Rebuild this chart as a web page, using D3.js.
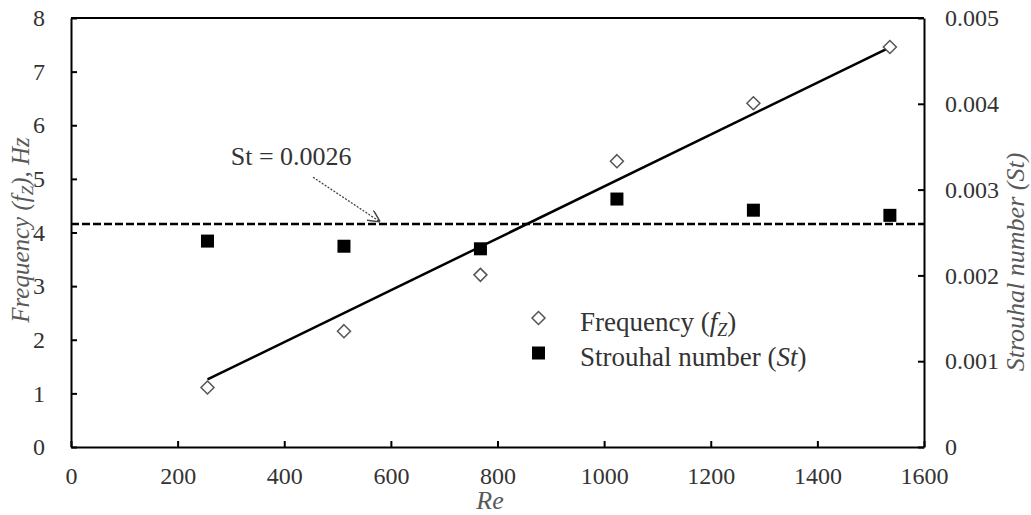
<!DOCTYPE html>
<html><head><meta charset="utf-8">
<script src="https://cdn.jsdelivr.net/npm/d3@7"></script>
<style>
body{margin:0;background:#fff;}
text{font-family:"Liberation Serif","Times New Roman",serif;}
</style></head>
<body><svg id="c" width="1031" height="515"></svg>
<script>
const reynolds = [256, 512, 768, 1024, 1280, 1536];
const frequency = [1.11, 2.16, 3.21, 5.33, 6.41, 7.46];
const strouhal = [0.00240, 0.00234, 0.00231, 0.00289, 0.00276, 0.00270];
const trendRe = [256, 1536];
const trendF = [1.26, 7.45];
const stMean = 0.0026;
const xTicks = [0, 200, 400, 600, 800, 1000, 1200, 1400, 1600];
const yTicks = [0, 1, 2, 3, 4, 5, 6, 7, 8];
const y2Ticks = [0, 0.001, 0.002, 0.003, 0.004, 0.005];
const arrowFrom = [454, 5.03];
const arrowTo = [580, 0.0026];
const annotText = "St = 0.0026";
const annotPos = [413, 5.41];

const svg = d3.select("#c");
const L = 71, R = 924, T = 18, B = 447;
const x = d3.scaleLinear().domain([0, 1600]).range([L, R]);
const y = d3.scaleLinear().domain([0, 8]).range([B, T]);
const y2 = d3.scaleLinear().domain([0, 0.005]).range([B, T]);

const txt = "#333";
svg.append("line").attr("x1", L).attr("x2", R).attr("y1", T).attr("y2", T)
  .attr("stroke", "#000").attr("stroke-width", 2);

function styleAxis(g) {
  g.select(".domain").attr("stroke", "#000").attr("stroke-width", 2);
  g.selectAll(".tick line").attr("stroke", "#000").attr("stroke-width", 2);
  g.selectAll(".tick text").attr("fill", txt).style("font-size", "24px")
    .style("font-family", "'Liberation Serif', serif");
}
const gx = svg.append("g").attr("transform", `translate(0,${B})`)
  .call(d3.axisBottom(x).tickValues(xTicks).tickSizeInner(-6).tickSizeOuter(0).tickPadding(20).tickFormat(d3.format("d")));
styleAxis(gx);
const gy = svg.append("g").attr("transform", `translate(${L},0)`)
  .call(d3.axisLeft(y).tickValues(yTicks).tickSizeInner(-6).tickSizeOuter(0).tickPadding(26).tickFormat(d3.format("d")));
styleAxis(gy);
const gy2 = svg.append("g").attr("transform", `translate(${R},0)`)
  .call(d3.axisRight(y2).tickValues(y2Ticks).tickSizeInner(-6).tickSizeOuter(0).tickPadding(21)
    .tickFormat(d => d === 0 ? "0" : d3.format(".3f")(d)));
styleAxis(gy2);

// dashed St line
svg.append("line").attr("x1", L).attr("x2", R).attr("y1", y2(stMean)).attr("y2", y2(stMean))
  .attr("stroke", "#000").attr("stroke-width", 2.5).attr("stroke-dasharray", "8,3");

// trend line
svg.append("path").datum(trendRe.map((r, i) => [r, trendF[i]]))
  .attr("d", d3.line().x(d => x(d[0])).y(d => y(d[1])))
  .attr("stroke", "#000").attr("stroke-width", 2.5).attr("fill", "none");

// markers
const sq = 13;
svg.selectAll("rect.st").data(reynolds).enter().append("rect")
  .attr("x", (d) => x(d) - sq / 2).attr("y", (d, i) => y2(strouhal[i]) - sq / 2)
  .attr("width", sq).attr("height", sq).attr("fill", "#000");
svg.selectAll("path.fz").data(reynolds).enter().append("path")
  .attr("d", (d, i) => {
    const cx = x(d), cy = y(frequency[i]), r = 6.5;
    return `M${cx},${cy - r}L${cx + r},${cy}L${cx},${cy + r}L${cx - r},${cy}Z`;
  })
  .attr("fill", "#fff").attr("stroke", "#555").attr("stroke-width", 1.5);

// annotation arrow
const defs = svg.append("defs");
defs.append("marker").attr("id", "arr").attr("viewBox", "0 0 10 10").attr("refX", 10).attr("refY", 5)
  .attr("markerWidth", 12).attr("markerHeight", 12).attr("markerUnits", "userSpaceOnUse").attr("orient", "auto")
  .append("path").attr("d", "M0,0L10,5L0,10").attr("fill", "none").attr("stroke", "#444").attr("stroke-width", 1.2);
svg.append("line").attr("x1", x(arrowFrom[0])).attr("y1", y(arrowFrom[1]))
  .attr("x2", x(arrowTo[0])).attr("y2", y2(arrowTo[1]) - 2)
  .attr("stroke", "#444").attr("stroke-width", 1.3).attr("stroke-dasharray", "2,1.5")
  .attr("marker-end", "url(#arr)");
svg.append("text").attr("x", x(annotPos[0])).attr("y", y(annotPos[1])).attr("text-anchor", "middle")
  .attr("dominant-baseline", "central").attr("fill", txt).style("font-size", "26px").text(annotText);

// legend
const lg = svg.append("g");
lg.append("path").attr("d", () => { const cx = 538.5, cy = 318, r = 6.5;
  return `M${cx},${cy - r}L${cx + r},${cy}L${cx},${cy + r}L${cx - r},${cy}Z`; })
  .attr("fill", "#fff").attr("stroke", "#555").attr("stroke-width", 1.5);
lg.append("rect").attr("x", 538.5 - 6.5).attr("y", 353 - 6.5).attr("width", 13).attr("height", 13).attr("fill", "#000");
const t1 = lg.append("text").attr("x", 580).attr("y", 331).attr("fill", txt).style("font-size", "27px");
t1.append("tspan").text("Frequency (");
t1.append("tspan").attr("font-style", "italic").text("f");
t1.append("tspan").attr("font-style", "italic").attr("baseline-shift", "-25%").style("font-size", "18px").text("Z");
t1.append("tspan").text(")");
const t2 = lg.append("text").attr("x", 580).attr("y", 366).attr("fill", txt).style("font-size", "27px");
t2.append("tspan").text("Strouhal number (");
t2.append("tspan").attr("font-style", "italic").text("St");
t2.append("tspan").text(")");

// axis titles
const tc = "#595959";
const lt = svg.append("text").attr("transform", "translate(29,230) rotate(-90)").attr("text-anchor", "middle")
  .attr("fill", tc).style("font-size", "25px").style("font-style", "italic");
lt.append("tspan").text("Frequency (f");
lt.append("tspan").attr("baseline-shift", "-25%").style("font-size", "17px").text("Z");
lt.append("tspan").text("), Hz");
svg.append("text").attr("transform", "translate(1024,262) rotate(-90)").attr("text-anchor", "middle")
  .attr("fill", tc).style("font-size", "26px").style("font-style", "italic").text("Strouhal number (St)");
svg.append("text").attr("x", 490).attr("y", 509).attr("text-anchor", "middle")
  .attr("fill", tc).style("font-size", "26px").style("font-style", "italic").text("Re");
</script></body></html>
